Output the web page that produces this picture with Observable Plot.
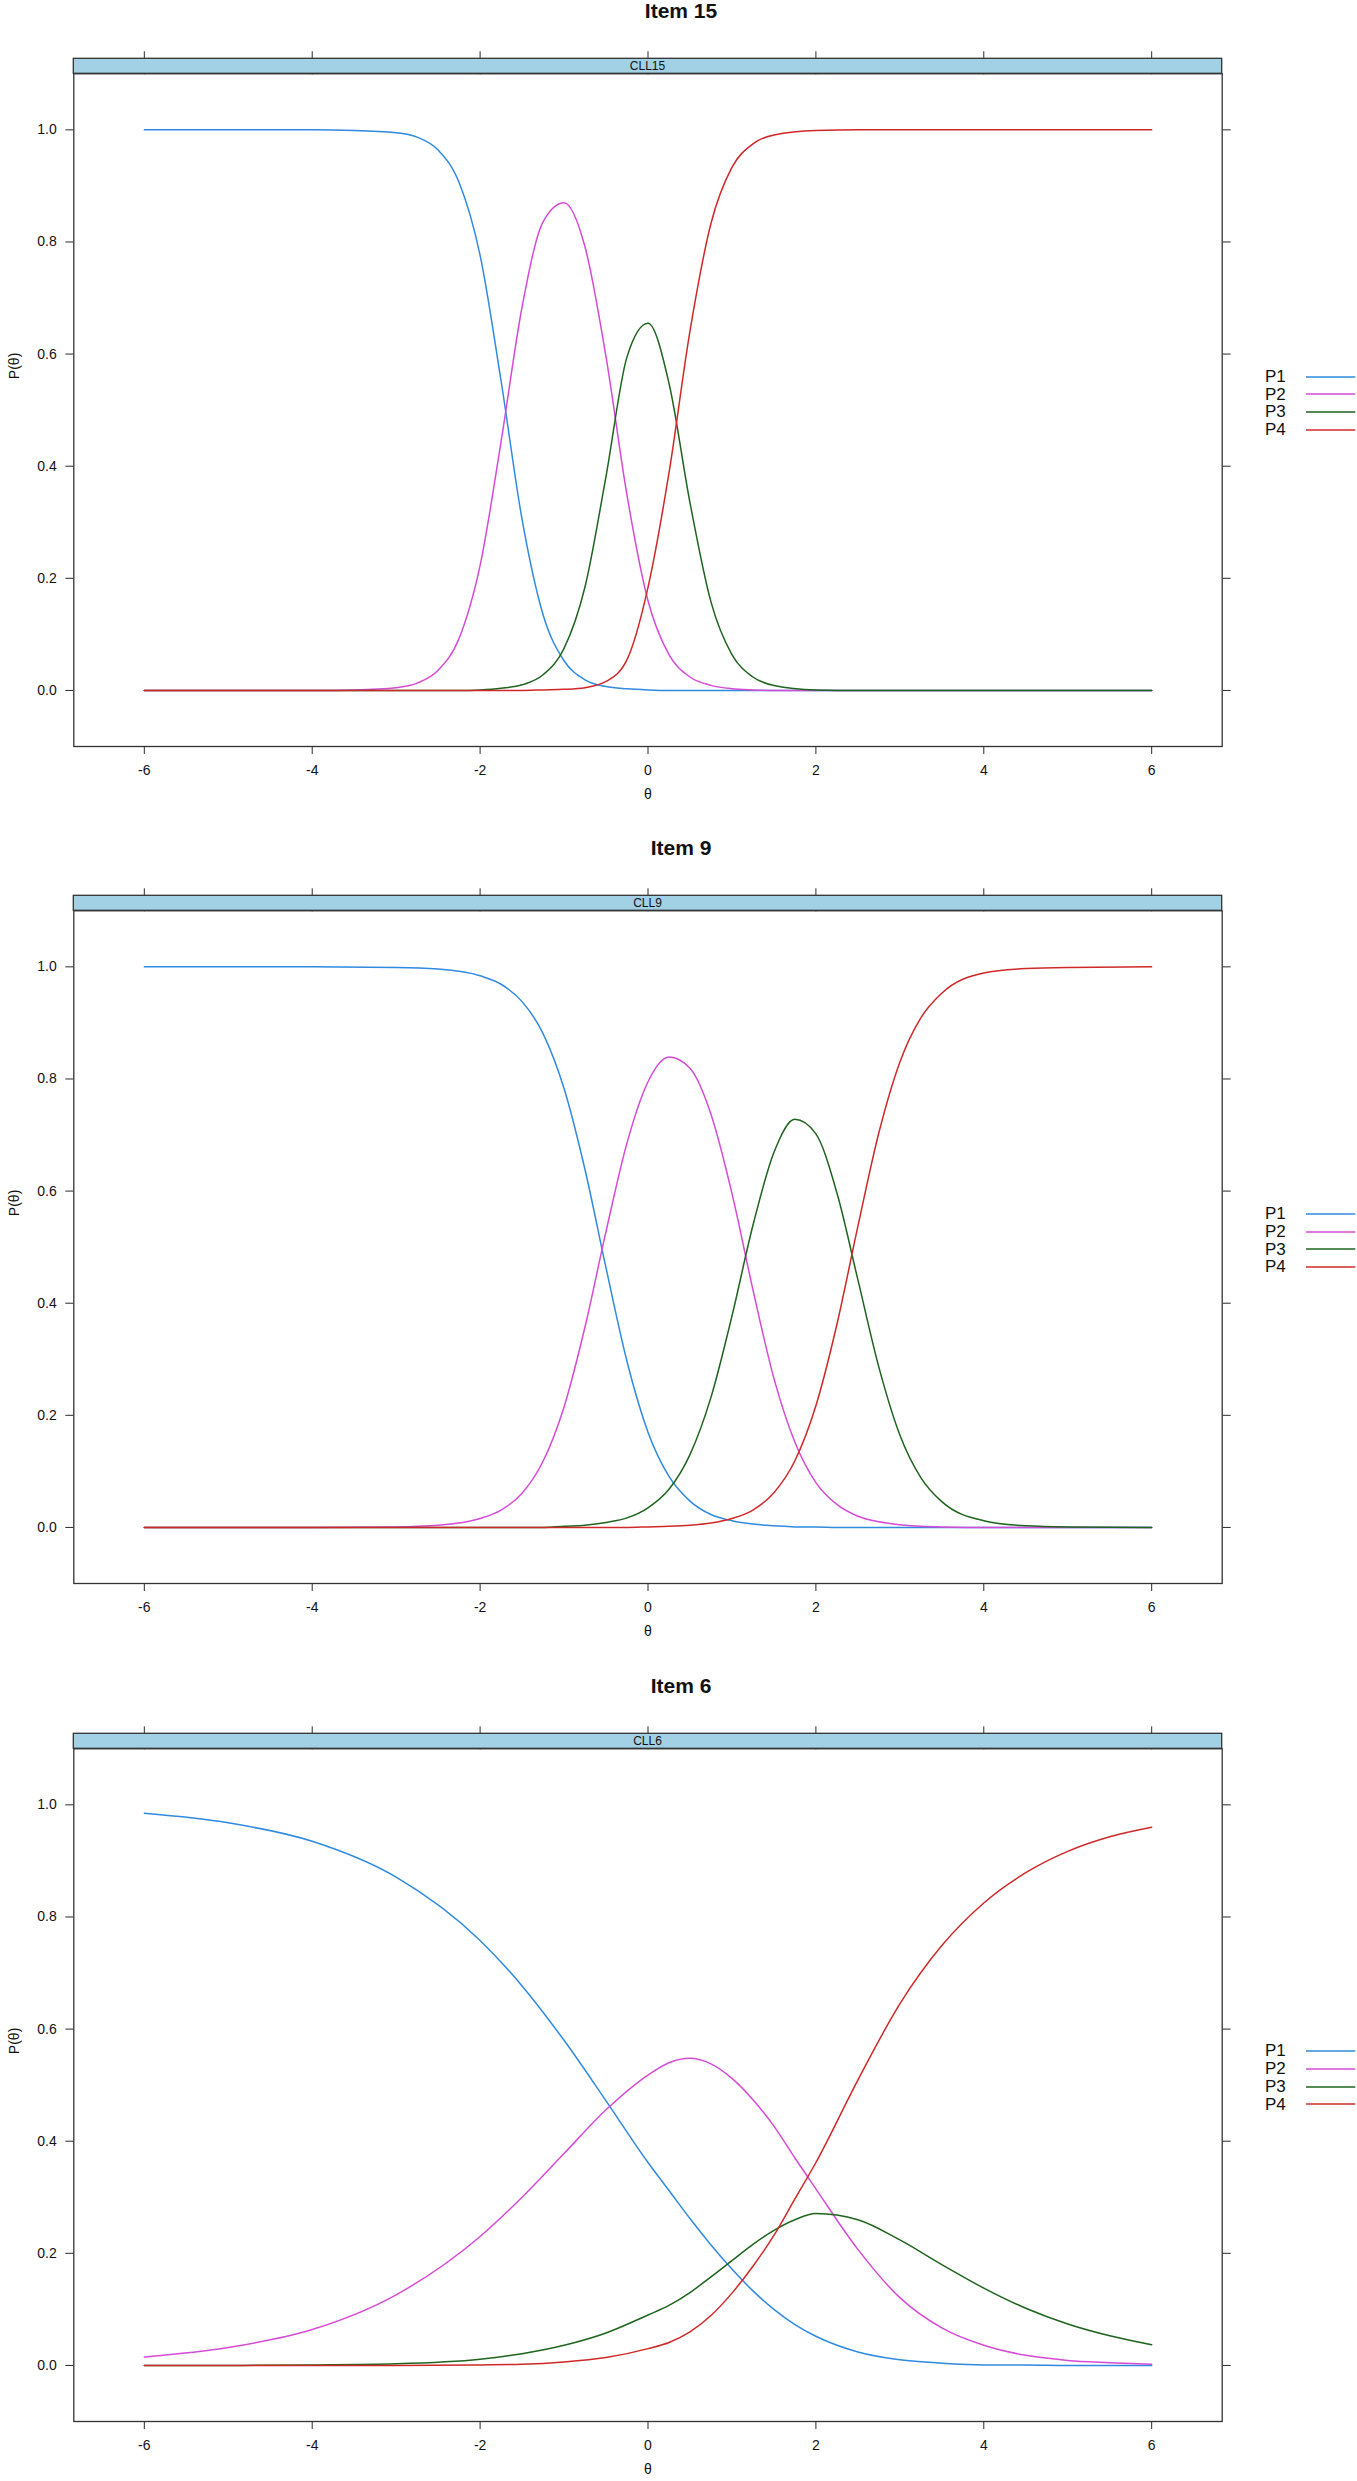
<!DOCTYPE html>
<html><head><meta charset="utf-8">
<script src="https://cdn.jsdelivr.net/npm/d3@7"></script>
<script src="https://cdn.jsdelivr.net/npm/@observablehq/plot@0.6"></script>
<style>
html,body{margin:0;padding:0;background:#fff;overflow:hidden;width:1357px;height:2481px;}
.block{position:absolute;left:0;width:1357px;height:838px;}
.title{position:absolute;left:0;width:1362px;top:-1px;line-height:21px;text-align:center;font:bold 21px "Liberation Sans",Arial,sans-serif;color:#111;}
.legend{position:absolute;left:1265px;font:17px "Liberation Sans",Arial,sans-serif;color:#111;}
.legend .row{height:17.7px;line-height:17.7px;display:flex;align-items:center;}
.legend .lab{width:40.7px;}
.legend svg{display:block}
.chart{position:absolute;left:0;top:30px;}
</style></head><body>
<div id="root"></div>
<script>
const categories = ["P1", "P2", "P3", "P4"];
const lineColors = ["#2f8ae0", "#d64bd6", "#1e641e", "#d02828"];
const itemTitles = ["Item 15", "Item 9", "Item 6"];
const stripLabels = ["CLL15", "CLL9", "CLL6"];
const xTicks = [-6, -4, -2, 0, 2, 4, 6];
const yTicks = [0, 0.2, 0.4, 0.6, 0.8, 1.0];

// Item 15
const theta15 = [-6,-5,-4,-3.5,-3,-2.75,-2.5,-2.25,-2,-1.75,-1.5,-1.25,-1,-0.75,-0.5,-0.25,0,0.25,0.5,0.75,1,1.25,1.5,2,2.5,3,4,5,6];
const item15P1 = [1,1,1,0.999,0.995,0.987,0.964,0.906,0.776,0.552,0.305,0.135,0.053,0.019,0.007,0.003,0.001,0,0,0,0,0,0,0,0,0,0,0,0];
const item15P2 = [0,0,0,0.001,0.005,0.013,0.036,0.093,0.223,0.444,0.684,0.836,0.870,0.791,0.595,0.348,0.160,0.064,0.024,0.009,0.003,0.001,0,0,0,0,0,0,0];
const item15P3 = [0,0,0,0,0,0,0,0,0.001,0.004,0.010,0.028,0.075,0.185,0.382,0.595,0.655,0.548,0.335,0.158,0.064,0.024,0.009,0.001,0,0,0,0,0];
const item15P4 = [0,0,0,0,0,0,0,0,0,0,0,0.001,0.002,0.005,0.016,0.055,0.184,0.388,0.641,0.833,0.933,0.975,0.991,0.999,1,1,1,1,1];

// Item 9
const theta9 = [-6,-5,-4,-3,-2.5,-2,-1.75,-1.5,-1.25,-1,-0.75,-0.5,-0.25,0,0.25,0.5,0.75,1,1.25,1.5,1.75,2,2.25,2.5,2.75,3,3.25,3.5,4,4.5,5,6];
const item9P1 = [1,1,1,0.999,0.996,0.984,0.969,0.938,0.881,0.783,0.638,0.463,0.296,0.170,0.091,0.047,0.023,0.012,0.006,0.003,0.001,0.001,0,0,0,0,0,0,0,0,0,0];
const item9P2 = [0,0,0,0.001,0.004,0.016,0.031,0.061,0.118,0.215,0.358,0.528,0.686,0.795,0.839,0.819,0.737,0.596,0.424,0.266,0.152,0.080,0.041,0.020,0.010,0.005,0.002,0.001,0,0,0,0];
const item9P3 = [0,0,0,0,0,0,0,0,0,0.002,0.004,0.009,0.017,0.035,0.068,0.130,0.232,0.377,0.539,0.669,0.728,0.702,0.597,0.442,0.286,0.165,0.089,0.046,0.012,0.003,0.001,0];
const item9P4 = [0,0,0,0,0,0,0,0,0,0,0,0,0,0.001,0.002,0.004,0.008,0.016,0.031,0.062,0.119,0.217,0.362,0.537,0.704,0.830,0.909,0.953,0.989,0.997,0.999,1];

// Item 6
const theta6 = [-6,-5,-4,-3,-2,-1.5,-1,-0.5,0,0.25,0.5,0.75,1,1.25,1.5,1.75,2,2.5,3,3.5,4,4.5,5,5.5,6];
const item6P1 = [0.985,0.968,0.935,0.871,0.758,0.677,0.580,0.472,0.362,0.312,0.262,0.215,0.172,0.133,0.100,0.073,0.052,0.024,0.010,0.004,0.001,0.001,0,0,0];
const item6P2 = [0.015,0.032,0.064,0.126,0.230,0.300,0.378,0.456,0.518,0.540,0.548,0.538,0.512,0.474,0.427,0.370,0.315,0.207,0.121,0.067,0.036,0.018,0.009,0.005,0.002];
const item6P3 = [0,0,0.001,0.003,0.011,0.021,0.036,0.058,0.090,0.107,0.130,0.158,0.187,0.216,0.241,0.260,0.271,0.260,0.224,0.180,0.138,0.102,0.074,0.053,0.037];
const item6P4 = [0,0,0,0,0.001,0.002,0.006,0.014,0.030,0.041,0.060,0.089,0.129,0.177,0.232,0.297,0.362,0.509,0.645,0.749,0.825,0.879,0.917,0.943,0.960];

const items = [
  {theta: theta15, series: [item15P1, item15P2, item15P3, item15P4]},
  {theta: theta9, series: [item9P1, item9P2, item9P3, item9P4]},
  {theta: theta6, series: [item6P1, item6P2, item6P3, item6P4]}
];

const blockH = 837.3;
const W = 1357, H = 800, mL = 73.3, mR = 135.3, mT = 43.3, mB = 84, stripH = 15;
const root = document.getElementById("root");

items.forEach((it, k) => {
  const rows = [];
  it.series.forEach((vals, j) => vals.forEach((p, i) => rows.push({theta: it.theta[i], p, cat: categories[j]})));

  const block = document.createElement("div");
  block.className = "block";
  block.style.top = (k * blockH) + "px";
  root.appendChild(block);

  const title = document.createElement("div");
  title.className = "title";
  title.textContent = itemTitles[k];
  block.appendChild(title);

  const svg = Plot.plot({
    width: W, height: H,
    marginLeft: mL, marginRight: mR, marginTop: mT, marginBottom: mB,
    style: {fontFamily: "'Liberation Sans', Arial, sans-serif", fontSize: "14px", color: "#2a2a2a", background: "transparent", overflow: "visible"},
    x: {domain: [-6.84, 6.84], ticks: xTicks},
    y: {domain: [-0.1, 1.1], ticks: yTicks},
    color: {domain: categories, range: lineColors},
    marks: [
      Plot.line(rows, {x: "theta", y: "p", z: "cat", stroke: "cat", strokeWidth: 1.5, curve: "monotone-x"}),
      Plot.frame({stroke: "#333", strokeWidth: 1.3}),
      Plot.axisX({anchor: "bottom", ticks: xTicks, tickSize: 8, tickPadding: 11, label: null, tickFormat: d => String(d), fill: "#111"}),
      Plot.axisX({anchor: "top", ticks: xTicks, tickSize: 23, label: null, tickFormat: () => ""}),
      Plot.axisY({anchor: "left", ticks: yTicks, tickSize: 8, tickPadding: 9, label: null, tickFormat: d3.format(".1f"), fill: "#111"}),
      Plot.axisY({anchor: "right", ticks: yTicks, tickSize: 8, label: null, tickFormat: () => ""}),
      Plot.text(["θ"], {frameAnchor: "bottom", dy: 52, fontSize: 14, fill: "#111"}),
      Plot.text(["P(θ)"], {frameAnchor: "left", dx: -59, dy: -31, rotate: -90, fontSize: 14, fill: "#111"})
    ]
  });
  svg.classList.add("chart");
  block.appendChild(svg);

  // lattice-style strip on top of the panel
  const s = d3.select(svg);
  s.append("rect")
    .attr("x", mL).attr("y", mT - stripH)
    .attr("width", W - mL - mR).attr("height", stripH)
    .attr("fill", "#a2d0e4").attr("stroke", "#333").attr("stroke-width", 1.3);
  s.append("text")
    .attr("x", (mL + W - mR) / 2).attr("y", mT - stripH / 2)
    .attr("dy", "0.35em").attr("text-anchor", "middle")
    .attr("font-size", 12).attr("fill", "#111")
    .text(stripLabels[k]);

  // legend on the right
  const leg = document.createElement("div");
  leg.className = "legend";
  leg.style.top = "367.9px";
  categories.forEach((c, j) => {
    const row = document.createElement("div");
    row.className = "row";
    const lab = document.createElement("span");
    lab.className = "lab";
    lab.textContent = c;
    row.appendChild(lab);
    const sw = d3.create("svg").attr("width", 50).attr("height", 6);
    sw.append("line").attr("x1", 0).attr("x2", 49.3).attr("y1", 3).attr("y2", 3)
      .attr("stroke", lineColors[j]).attr("stroke-width", 1.6);
    row.appendChild(sw.node());
    leg.appendChild(row);
  });
  block.appendChild(leg);
});
</script></body></html>
